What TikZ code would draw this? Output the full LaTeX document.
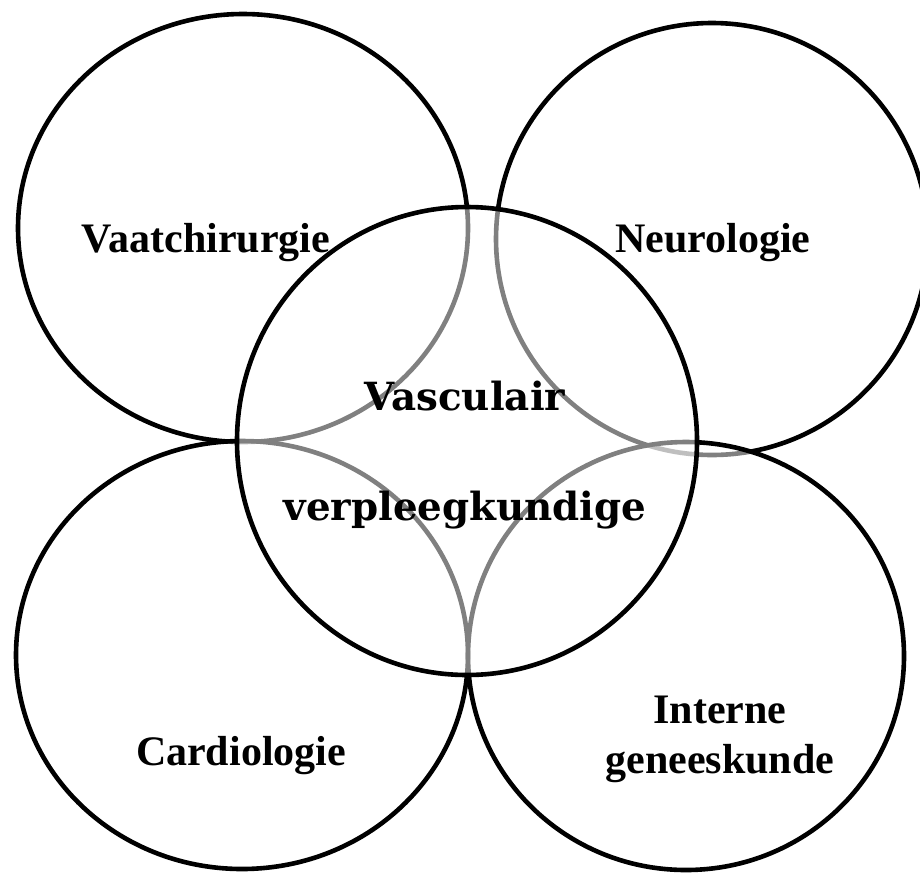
\documentclass[tikz,border=0pt]{standalone}
\usepackage{fontspec}
\setmainfont{Liberation Serif}
\newfontfamily\hubfont{DejaVu Serif}
\begin{document}
\begin{tikzpicture}[x=0.5pt,y=-0.5pt,
    ring/.style={draw=black, line width=2.3pt},
    veil/.style={ring, fill=white, fill opacity=0.5},
    lab/.style={font=\fontsize{21}{25}\selectfont\bfseries, anchor=base,
                align=center, inner sep=0pt},
    hub/.style={font=\hubfont\fontsize{19.4}{55}\selectfont\bfseries, anchor=base,
                align=center, inner sep=0pt}
  ]
  \useasboundingbox (0,0) rectangle (920,873);
  \clip (0,0) rectangle (920,873);

  % ===== outer rings =====
  \draw[ring] (243,228) ellipse [x radius=225, y radius=214];
  \draw[ring] (712,239) ellipse [x radius=216, y radius=216];
  \draw[veil] (242,655) ellipse [x radius=226, y radius=214];
  \draw[veil] (686,656) ellipse [x radius=218, y radius=214];

  % ===== central ring =====
  \draw[veil] (467,441) ellipse [x radius=230, y radius=234];

  % ===== labels (base = last line) =====
  \node[lab] (vaat)   at (206,252) {Vaatchirurgie};
  \node[lab] (neuro)  at (713,252) {Neurologie};
  \node[lab] (cardio) at (241,765) {Cardiologie};
  \node[lab] (intern) at (720,773) {Interne\\geneeskunde};
  \node[hub] (vasc)   at (465,520) {Vasculair\\verpleegkundige};
\end{tikzpicture}
\end{document}
